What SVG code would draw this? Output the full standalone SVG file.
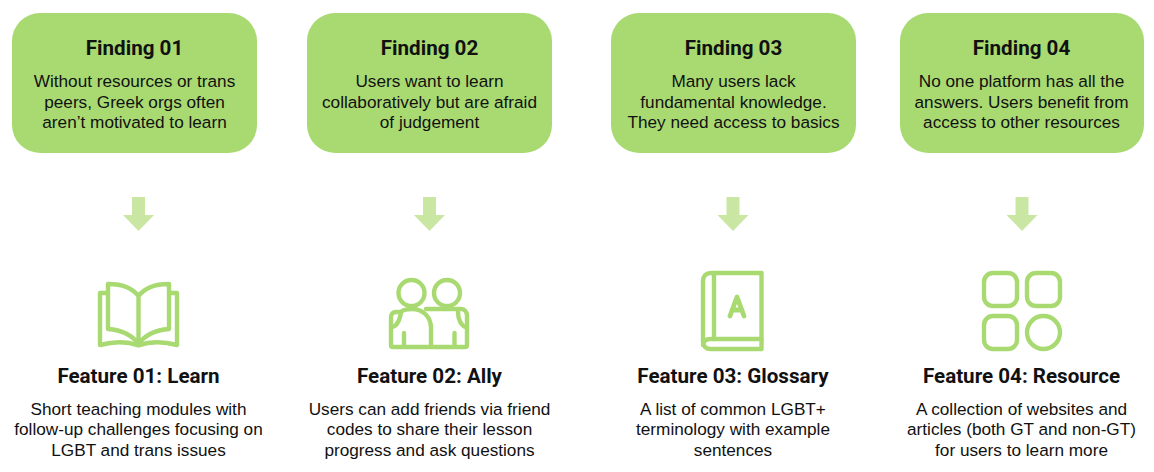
<svg xmlns="http://www.w3.org/2000/svg" width="1154" height="472" viewBox="0 0 1154 472">
<style>
.box{fill:#A9DA72}
.arrow{fill:#C9E7A3}
.ic{fill:none;stroke:#A9DA72;stroke-width:4.400;stroke-linecap:round;stroke-linejoin:round}
text{text-anchor:middle;fill:#111}
.h{font-family:Roboto,"Liberation Sans",sans-serif;font-weight:700;font-size:20.600px}
.b{font-family:"Liberation Sans",Arial,sans-serif;font-size:17.200px}
</style>
<rect width="1154" height="472" fill="#fff"/>
<g id="connectors">
<path class="arrow" d="M132 197H145V215H154L138.500 231L123 215H132Z"/>
<path class="arrow" d="M423 197H436V215H445L429.500 231L414 215H423Z"/>
<path class="arrow" d="M726.500 197H739.500V215H748.500L733 231L717.500 215H726.500Z"/>
<path class="arrow" d="M1015.500 197H1028.500V215H1037.500L1022 231L1006.500 215H1015.500Z"/>
</g>
<g id="finding-01">
<rect class="box" x="12" y="13" width="245" height="140" rx="28"/>
<text class="h" x="134.500" y="55">Finding 01</text>
<text class="b" x="134.500" y="87">Without resources or trans</text>
<text class="b" x="134.500" y="107.500">peers, Greek orgs often</text>
<text class="b" x="134.500" y="128">aren’t motivated to learn</text>
</g>
<g id="finding-02">
<rect class="box" x="307" y="13" width="245" height="140" rx="28"/>
<text class="h" x="429.500" y="55">Finding 02</text>
<text class="b" x="429.500" y="87">Users want to learn</text>
<text class="b" x="429.500" y="107.500">collaboratively but are afraid</text>
<text class="b" x="429.500" y="128">of judgement</text>
</g>
<g id="finding-03">
<rect class="box" x="611" y="13" width="245" height="140" rx="28"/>
<text class="h" x="733.500" y="55">Finding 03</text>
<text class="b" x="733.500" y="87">Many users lack</text>
<text class="b" x="733.500" y="107.500">fundamental knowledge.</text>
<text class="b" x="733.500" y="128">They need access to basics</text>
</g>
<g id="finding-04">
<rect class="box" x="900" y="13" width="244" height="140" rx="28"/>
<text class="h" x="1021.500" y="55">Finding 04</text>
<text class="b" x="1021.500" y="87">No one platform has all the</text>
<text class="b" x="1021.500" y="107.500">answers. Users benefit from</text>
<text class="b" x="1021.500" y="128">access to other resources</text>
</g>
<g id="feature-01">
<g class="ic">
<path d="M138.500 296C132 288 122 284 109 284H108V329C122 330 132 335 138.500 344C145 335 155 330 169 329V284H168C155 284 145 288 138.500 296V344"/>
<path d="M107 293H100V345C115 341 129 342 138.500 345.500C148 342 162 341 177 345V293H170"/>
</g>
<text class="h" x="138.500" y="382.500">Feature 01: Learn</text>
<text class="b" x="138.500" y="414.500">Short teaching modules with</text>
<text class="b" x="138.500" y="435">follow-up challenges focusing on</text>
<text class="b" x="138.500" y="455.500">LGBT and trans issues</text>
</g>
<g id="feature-02">
<g class="ic">
<circle cx="411.500" cy="293" r="13"/>
<circle cx="447" cy="293" r="13"/>
<path d="M431 346V328C431 316 422 309 412 309C407 309 403 310 401 312C400 319 397 326 392 327"/>
<path d="M426 309H461C465 309 467 312 467 316V345C467 346.500 466 347 465 347H393C392 347 391 346.500 391 345V317C391 314 393 312 396 312H401"/>
<path d="M458 312C458 319 461 326 466 327"/>
<path d="M404 333V346"/>
<path d="M454.500 333V346"/>
</g>
<text class="h" x="429.500" y="382.500">Feature 02: Ally</text>
<text class="b" x="429.500" y="414.500">Users can add friends via friend</text>
<text class="b" x="429.500" y="435">codes to share their lesson</text>
<text class="b" x="429.500" y="455.500">progress and ask questions</text>
</g>
<g id="feature-03">
<g class="ic">
<path d="M761.500 273H711C706 273 703 276 703 281V342C703 346 706 349 711 349H761.500Z"/>
<path d="M714 273V339"/>
<path d="M761.500 339H711C706 339 703 341 703 345"/>
<path d="M730 316L737 297L744 316M732 310H742" stroke-width="4.800"/>
</g>
<text class="h" x="733" y="382.500">Feature 03: Glossary</text>
<text class="b" x="733" y="414.500">A list of common LGBT+</text>
<text class="b" x="733" y="435">terminology with example</text>
<text class="b" x="733" y="455.500">sentences</text>
</g>
<g id="feature-04">
<g class="ic">
<rect x="984" y="273" width="33" height="33" rx="9"/>
<rect x="1027" y="273" width="33" height="33" rx="9"/>
<rect x="984" y="316" width="33" height="33" rx="9"/>
<circle cx="1043.500" cy="332.500" r="16.500"/>
</g>
<text class="h" x="1021.500" y="382.500">Feature 04: Resource</text>
<text class="b" x="1021.500" y="414.500">A collection of websites and</text>
<text class="b" x="1021.500" y="435">articles (both GT and non-GT)</text>
<text class="b" x="1021.500" y="455.500">for users to learn more</text>
</g>
</svg>
